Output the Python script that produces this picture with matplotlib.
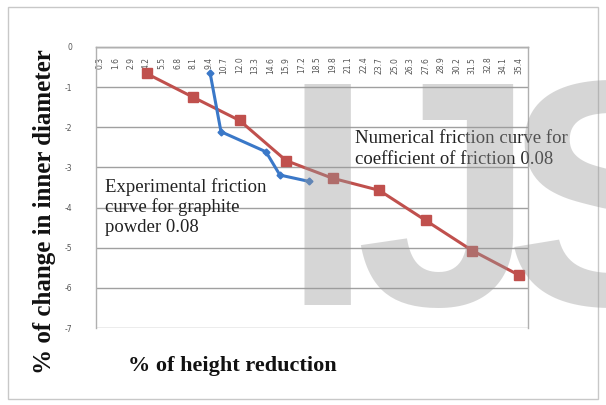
import matplotlib
matplotlib.use("Agg")
import matplotlib.pyplot as plt
from matplotlib.patches import Rectangle

# ---- data ----
categories = ["0.3", "1.6", "2.9", "4.2", "5.5", "6.8", "8.1", "9.4", "10.7", "12.0",
              "13.3", "14.6", "15.9", "17.2", "18.5", "19.8", "21.1", "22.4", "23.7",
              "25.0", "26.3", "27.6", "28.9", "30.2", "31.5", "32.8", "34.1", "35.4"]
numerical_x = [3, 6, 9, 12, 15, 18, 21, 24, 27]
numerical_y = [-0.66, -1.25, -1.83, -2.83, -3.27, -3.57, -4.32, -5.07, -5.68]
experimental_x = [7.1, 7.8, 10.7, 11.6, 13.5]
experimental_y = [-0.65, -2.11, -2.61, -3.19, -3.35]
yticks = [0, -1, -2, -3, -4, -5, -6, -7]

W, H = 606, 405
fig = plt.figure(figsize=(W / 100, H / 100), dpi=100)
fig.patch.set_facecolor("white")

# outer chart border
fig.patches.append(Rectangle((8 / W, 6 / H), 590 / W, 392 / H, transform=fig.transFigure,
                             fill=False, edgecolor="#c8c8c8", linewidth=1.0))

left, right, top, bottom = 96, 528, 47, 328
ax = fig.add_axes([left / W, 1 - bottom / H, (right - left) / W, (bottom - top) / H])

ax.set_xlim(-0.26, 27.6)
ax.set_ylim(-7, 0)

for y in yticks:
    ax.axhline(y, color="#a0a0a0", linewidth=1.0, zorder=0)

ax.plot(numerical_x, numerical_y, color="#c0504d", linewidth=2.2, marker="s",
        markersize=6.5, zorder=3)
ax.plot(experimental_x, experimental_y, color="#3a78c8", linewidth=2.2, marker="D",
        markersize=3.5, zorder=4)

for s in ax.spines.values():
    s.set_color("#b0b0b0")
    s.set_linewidth(1.0)
ax.spines["bottom"].set_position(("data", 0))

ax.set_xticks(range(len(categories)))
ax.set_xticklabels(categories, rotation=90, fontsize=5.5, color="#555555",
                   family="DejaVu Sans")
ax.tick_params(axis="x", length=0, pad=7)
ax.set_yticks(yticks)
ax.set_yticklabels([str(v) for v in yticks], fontsize=5.5, color="#555555")
ax.tick_params(axis="y", length=0, pad=17)

serif = "Liberation Serif"
fig.text(355 / W, 1 - 149 / H, "Numerical friction curve for\ncoefficient of friction 0.08",
         family=serif, fontsize=13.5, color="#222222", va="center", ha="left",
         linespacing=1.3)
fig.text(105 / W, 1 - 207 / H, "Experimental friction\ncurve for graphite\npowder 0.08",
         family=serif, fontsize=13.5, color="#222222", va="center", ha="left",
         linespacing=1.2)

fig.text(232 / W, 1 - 366 / H, "% of height reduction", family=serif, fontweight="bold",
         fontsize=16, ha="center", va="center", color="#111111")
fig.text(45 / W, 1 - 212 / H, "% of change in inner diameter", family=serif,
         fontweight="bold", fontsize=18, rotation=90, ha="center", va="center",
         color="#111111")

# watermark
wm = dict(family="Liberation Sans", fontweight="bold", fontsize=232, color="#9a9a9a",
          alpha=0.4, va="baseline", zorder=10)
fig.text(282 / W, 1 - 305 / H, "I", ha="left", **wm)
fig.text(355 / W, 1 - 305 / H, "J", ha="left", **wm)
fig.text(505 / W, 1 - 305 / H, "S", ha="left", **wm)

fig.savefig("out.png", dpi=100, facecolor="white")
